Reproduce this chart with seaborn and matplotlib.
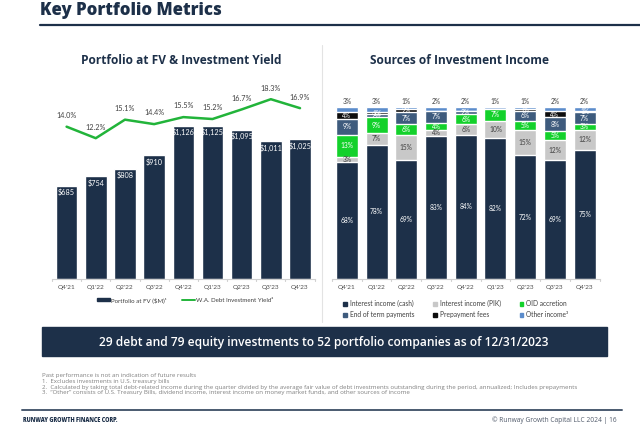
import numpy as np
import pandas as pd
import matplotlib.pyplot as plt
import seaborn as sns
from matplotlib import font_manager
from matplotlib.patches import Patch, Rectangle
from matplotlib.lines import Line2D

# Data
quarters = ["Q4'21", "Q1'22", "Q2'22", "Q3'22", "Q4'22", "Q1'23", "Q2'23", "Q3'23", "Q4'23"]
portfolio_fv = [685, 754, 808, 910, 1126, 1125, 1095, 1011, 1025]
debt_yield = [14.0, 12.2, 15.1, 14.4, 15.5, 15.2, 16.7, 18.3, 16.9]

# sources of investment income (%), bottom to top
cash = [68, 78, 69, 83, 84, 82, 72, 69, 75]
pik = [3, 7, 15, 4, 6, 10, 15, 12, 12]
oid = [13, 9, 6, 4, 6, 7, 5, 5, 3]
end_of_term = [9, 2, 7, 7, 2, 0, 6, 8, 7]
prepayment = [4, 1, 2, 0, 0, 0, 1, 4, 1]
other = [3, 3, 1, 2, 2, 1, 1, 2, 2]
source_names = ["Interest income (cash)", "Interest income (PIK)", "OID accretion",
                "End of term payments", "Prepayment fees", "Other income\u00b3"]

NAVY = "#1d3049"
GREEN = "#22b43a"
src_colors = [NAVY, "#c8c8c8", "#13d12b", "#3e5b7d", "#0d0d0d", "#5b8ccb"]
lbl_colors = ["white", "#404040", "white", "white", "white", None]

sns.set_theme(style="white")
installed = {f.name for f in font_manager.fontManager.ttflist}
if "Liberation Sans Narrow" in installed:
    NARROW, SC = "Liberation Sans Narrow", 1.0
else:
    NARROW, SC = "Lato", 0.82
plt.rcParams["font.family"] = [NARROW, "DejaVu Sans"]
HEAD = ["Open Sans", "DejaVu Sans"]

fig = plt.figure(figsize=(6.4, 4.28), dpi=100)
W, H = 640, 428


def fx(px):
    return px / W


def fy(py):
    return 1 - py / H


# header
fig.text(fx(40), fy(15), "Key Portfolio Metrics", fontsize=12.1, fontweight="heavy",
         color=NAVY, family=HEAD, va="baseline")
fig.add_artist(Line2D([fx(40), 1], [fy(25), fy(25)], color=NAVY, lw=1.6))
fig.add_artist(Line2D([fx(322), fx(322)], [fy(45), fy(322)], color="#e3e3e3", lw=0.8))

fig.text(fx(181), fy(60), "Portfolio at FV & Investment Yield", fontsize=8.6, fontweight="bold",
         color=NAVY, family=HEAD, ha="center", va="center")
fig.text(fx(460), fy(60), "Sources of Investment Income", fontsize=8.6, fontweight="bold",
         color=NAVY, family=HEAD, ha="center", va="center")

# ---- left chart: portfolio FV bars + yield line
ax1 = fig.add_axes([fx(52), fy(279), fx(314.6) - fx(52), fy(90) - fy(279)])
df_fv = pd.DataFrame({"quarter": quarters, "fv": portfolio_fv})
sns.barplot(data=df_fv, x="quarter", y="fv", color=NAVY, saturation=1, width=0.74, ax=ax1)
ax1.set_ylim(0, 1388)
ax1.set_xlim(-0.5, len(quarters) - 0.5)
for i, v in enumerate(portfolio_fv):
    ax1.text(i, v - 22, f"${v:,}", ha="center", va="top", color="white", fontsize=6.4 * SC)

ax2 = ax1.twinx()
sns.lineplot(x=np.arange(len(quarters)), y=debt_yield, color=GREEN, lw=1.8, ax=ax2)
ax2.set_ylim(-9.83, 19.74)
for i, v in enumerate(debt_yield):
    ax2.annotate(f"{v:.1f}%", (i, v), xytext=(0, 5.5), textcoords="offset points",
                 ha="center", va="bottom", color="#404040", fontsize=6.4 * SC)

for ax in (ax1, ax2):
    ax.set_yticks([])
    ax.set_xlabel("")
    ax.set_ylabel("")
    for s in ["top", "right", "left"]:
        ax.spines[s].set_visible(False)
    ax.spines["bottom"].set_color("#d0d0d0")
    ax.spines["bottom"].set_linewidth(0.8)
ax2.spines["bottom"].set_visible(False)

fig.legend(handles=[Patch(color=NAVY, label="Portfolio at FV ($M)\u00b9"),
                    Line2D([], [], color=GREEN, lw=1.4, label="W.A. Debt Investment Yield\u00b2")],
           loc="center", bbox_to_anchor=(fx(185), fy(300)), ncol=2, frameon=False,
           fontsize=5.4 * SC, handlelength=2.1, handleheight=0.45, columnspacing=2.5,
           handletextpad=0.15, labelcolor="#404040")

# ---- right chart: stacked sources of income
ax3 = fig.add_axes([fx(332), fy(279), fx(599.5) - fx(332), fy(90) - fy(279)])
df_src = pd.DataFrame({"quarter": quarters, "cash": cash, "pik": pik, "oid": oid,
                       "eot": end_of_term, "prepay": prepayment, "other": other})
cols = ["cash", "pik", "oid", "eot", "prepay", "other"]
cum = df_src[cols].cumsum(axis=1)
# draw from the top layer down so lower layers overlay
for k in range(len(cols) - 1, -1, -1):
    sns.barplot(x=df_src["quarter"], y=cum[cols[k]], color=src_colors[k], saturation=1,
                width=0.74, ax=ax3)
ax3.set_ylim(0, 110)
ax3.set_xlim(-0.5, len(quarters) - 0.5)

for k, c in enumerate(cols):
    for i in range(len(quarters)):
        v = df_src[c].iloc[i]
        if v <= 0:
            continue
        top = cum[c].iloc[i]
        if c == "other":
            ax3.text(i, top + 1.5, f"{v}%", ha="center", va="bottom", color="#404040",
                     fontsize=5.8 * SC)
        else:
            ax3.text(i, top - v / 2, f"{v}%", ha="center", va="center",
                     color=lbl_colors[k], fontsize=5.8 * SC)

ax3.set_yticks([])
ax3.set_xlabel("")
ax3.set_ylabel("")
for s in ["top", "right", "left"]:
    ax3.spines[s].set_visible(False)
ax3.spines["bottom"].set_color("#d0d0d0")
ax3.spines["bottom"].set_linewidth(0.8)

for ax in (ax1, ax3):
    ax.tick_params(axis="x", length=0, pad=4, labelsize=5.7 * SC, labelcolor="#505050")
    for b in np.arange(-0.5, len(quarters), 1.0):
        ax.plot([b, b], [0, -0.012], transform=ax.get_xaxis_transform(), color="#d0d0d0",
                lw=0.8, clip_on=False)

fig.legend(handles=[Patch(color=src_colors[k], label=source_names[k]) for k in [0, 3, 1, 4, 2, 5]],
           loc="upper left", bbox_to_anchor=(fx(340), fy(297)), ncol=3, frameon=False,
           fontsize=5.8 * SC, handlelength=0.55, handleheight=0.55, columnspacing=2.9,
           handletextpad=0.4, labelspacing=0.55, labelcolor="#404040", borderpad=0)

# ---- banner and footer
fig.add_artist(Rectangle((fx(41.7), fy(356)), fx(606.7) - fx(41.7), fy(327) - fy(356),
                         color=NAVY, transform=fig.transFigure))
fig.text(fx(324), fy(342.5), "29 debt and 79 equity investments to 52 portfolio companies as of 12/31/2023",
         color="white", fontsize=8.65, family=HEAD, fontweight="semibold",
         ha="center", va="center")

notes = ["Past performance is not an indication of future results",
         "1.  Excludes investments in U.S. treasury bills",
         "2.  Calculated by taking total debt-related income during the quarter divided by the average fair value of debt investments outstanding during the period, annualized; Includes prepayments",
         "3.  \u201cOther\u201d consists of U.S. Treasury Bills, dividend income, interest income on money market funds, and other sources of income"]
for j, t in enumerate(notes):
    fig.text(fx(41.7), fy(376 + j * 5.6), t, fontsize=4.45, color="#808080", va="center",
             family=HEAD)

fig.add_artist(Line2D([fx(22), fx(622)], [fy(409.5), fy(409.5)], color="#4a5a70", lw=1.4))
fig.text(fx(22.7), fy(420.5), "RUNWAY GROWTH FINANCE CORP.", fontsize=4.0, fontweight="heavy",
         color=NAVY, family=HEAD, va="center")
fig.text(fx(616.7), fy(420.5), "\u00a9 Runway Growth Capital LLC 2024 | 16", fontsize=4.8,
         color="#505a6a", family=HEAD, va="center", ha="right")

fig.savefig("out.png", dpi=100)
